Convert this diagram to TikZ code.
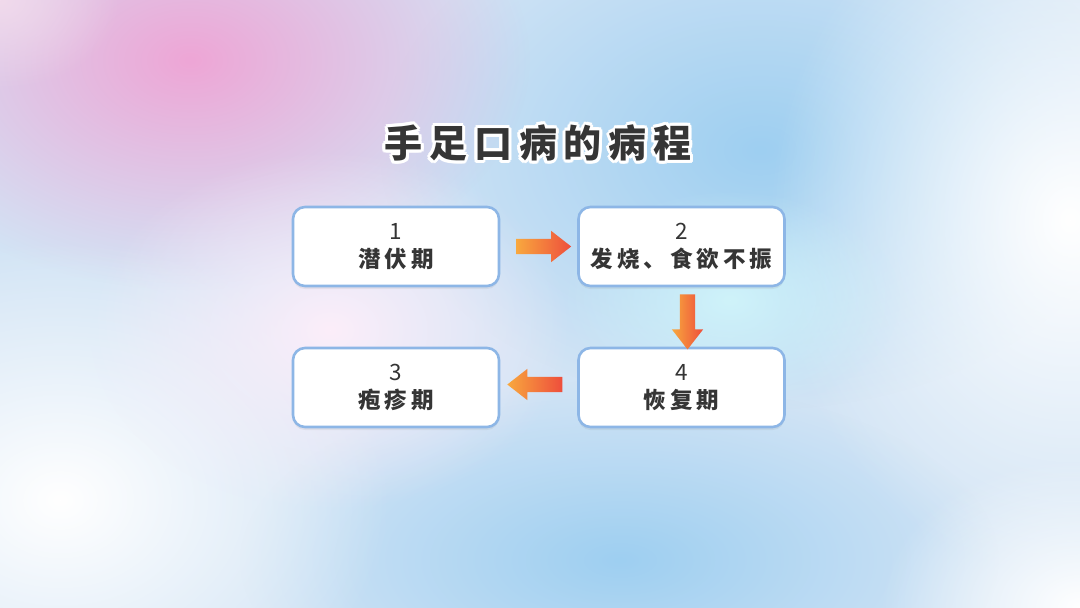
\documentclass[tikz,border=0pt]{standalone}
\usepackage{fontspec}
\usetikzlibrary{shapes.arrows,shadows,fadings,calc}
\newfontfamily\cjk[LetterSpace=18]{Noto Sans CJK SC}
\newfontfamily\cjktitle[LetterSpace=18]{Noto Sans CJK SC}
\definecolor{bgbase}{HTML}{D2E4F5}
\definecolor{bgblue}{HTML}{9ECFF1}
\definecolor{bgpink}{HTML}{EEA6D6}
\definecolor{bgcyan}{HTML}{CFF3FA}
\definecolor{bglav}{HTML}{FCEEFA}
\definecolor{bgtl}{HTML}{F1DAEC}
\definecolor{boxline}{HTML}{8DB6E6}
\definecolor{txt}{HTML}{353535}
\definecolor{arrtail}{HTML}{F8A83E}
\definecolor{arrhead}{HTML}{EE4E3C}
\tikzfading[name=blob, inner color=transparent!0, outer color=transparent!100]
\tikzset{
  stage/.style={draw=boxline, line width=2.6pt, fill=white, rounded corners=12pt,
    minimum width=206pt, minimum height=79pt, align=center, text=txt, inner sep=0pt,
    font=\cjk\fontsize{22.5}{28}\selectfont,
    drop shadow={opacity=0.12, shadow xshift=0pt, shadow yshift=-3pt}},
  flowarrow/.style={single arrow, draw=none, minimum height=55pt, inner xsep=0pt, inner ysep=7.5pt,
    single arrow head extend=8pt, single arrow tip angle=76,
    left color=arrtail, right color=arrhead, shading angle=90},
  glow/.style={text=white, font=\cjktitle\bfseries\fontsize{38}{44}\selectfont},
  titletext/.style={text=txt, font=\cjktitle\bfseries\fontsize{38}{44}\selectfont}
}
\begin{document}
\begin{tikzpicture}[x=1pt,y=-1pt]
\useasboundingbox (0,0) rectangle (1080,608);
% background
\fill[bgbase] (0,0) rectangle (1080,608);
\begin{scope}
\clip (0,0) rectangle (1080,608);
\fill[bgblue, path fading=blob] (760,150) ellipse [x radius=380, y radius=260];
\fill[bgblue, path fading=blob] (620,560) ellipse [x radius=380, y radius=180];
\fill[bgpink, path fading=blob] (190,60) ellipse [x radius=340, y radius=230];
\fill[bgtl, path fading=blob] (0,0) ellipse [x radius=120, y radius=90];
\fill[white, path fading=blob] (1070,220) ellipse [x radius=300, y radius=360];
\fill[white, path fading=blob] (60,500) ellipse [x radius=330, y radius=260];
\fill[bglav, path fading=blob] (330,330) ellipse [x radius=240, y radius=180];
\fill[bgcyan, path fading=blob] (730,300) ellipse [x radius=170, y radius=110];
\fill[white, path fading=blob] (1080,608) ellipse [x radius=200, y radius=150];
\end{scope}
% title with white halo
\foreach \a in {0,30,...,330}{
  \node[glow] (glow\a) at ($(538,143)+(\a:3)$) {手足口病的病程};
}
\node[titletext] (title) at (538,143) {手足口病的病程};
% stages
\node[stage] (s1) at (396,246.5) {1\\{\bfseries 潜伏期}};
\node[stage] (s2) at (681.5,246.5) {2\\{\bfseries 发烧、食欲不振}};
\node[stage] (s3) at (396,387.5) {3\\{\bfseries 疱疹期}};
\node[stage] (s4) at (681.5,387.5) {4\\{\bfseries 恢复期}};
% arrows
\node[flowarrow] (a12) at ($(s1.east)!0.5!(s2.west)$) {};
\node[flowarrow, rotate=-90] (a24) at ($(s2.south)!0.5!(s4.north)+(6,0)$) {};
\node[flowarrow, rotate=180] (a43) at ($(s4.west)!0.5!(s3.east)+(1,-3)$) {};
\end{tikzpicture}
\end{document}
